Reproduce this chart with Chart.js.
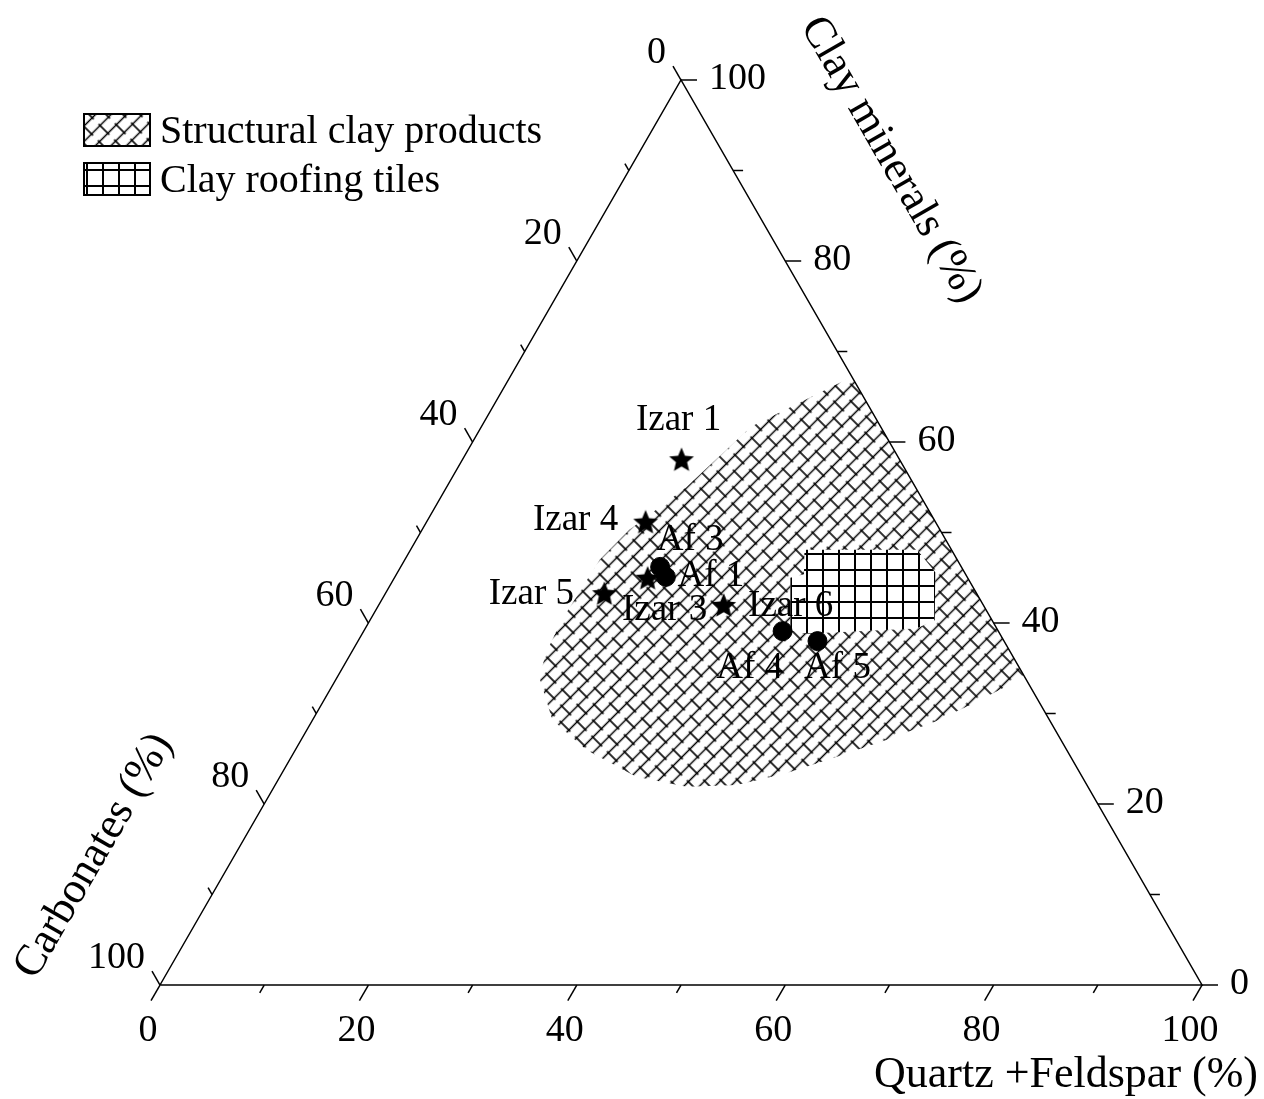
<!DOCTYPE html>
<html>
<head>
<meta charset="utf-8">
<script src="https://cdn.jsdelivr.net/npm/chart.js@4.4.1/dist/chart.umd.min.js"></script>
<style>
  html, body { margin: 0; padding: 0; background: #ffffff; }
  canvas { display: block; }
</style>
</head>
<body>
<canvas id="chart" width="1264" height="1099"></canvas>
<script>
// ---- Sample compositions (%) ----
const izarNames = ['Izar 1', 'Izar 3', 'Izar 4', 'Izar 5', 'Izar 6'];
const izarQuartzFeldspar = [21.0, 24.3, 21.0, 21.0, 33.1];
const izarClay = [58.1, 45.0, 51.2, 43.3, 42.0];
const izarCarbonates = [20.9, 30.7, 27.8, 35.7, 24.9];

const afNames = ['Af 1', 'Af 3', 'Af 4', 'Af 5'];
const afQuartzFeldspar = [26.0, 24.9, 40.2, 44.1];
const afClay = [45.1, 46.2, 39.1, 38.0];
const afCarbonates = [28.9, 28.9, 20.7, 17.9];

// ---- Reference fields: boundary as (Quartz+Feldspar, Clay) pairs ----
const structuralQuartzFeldspar = [32.8, 25.9, 23.0, 19.9, 18.7, 18.4, 18.7, 19.4, 23.0, 27.9, 34.2, 39.6, 44.3, 48.4, 52.3, 56.2, 59.8, 62.6, 64.6, 65.75];
const structuralClay           = [67.2, 61.7, 55.0, 50.3, 47.0, 40.3, 36.7, 34.0, 29.3, 26.0, 23.0, 21.9, 22.1, 23.4, 25.2, 27.1, 29.1, 31.2, 32.9, 34.25];

const roofingQuartzFeldspar = [37.8, 48.6, 51.6, 54.2, 52.9, 42.5, 40.9, 38.0, 39.1];
const roofingClay           = [48.1, 48.1, 45.6, 40.3, 39.4, 38.8, 39.2, 45.0, 45.4];

// ---- Axes ----
const tickValues = [0, 10, 20, 30, 40, 50, 60, 70, 80, 90, 100];
const tickLabels = ['0', '20', '40', '60', '80', '100'];
const legendLabels = ['Structural clay products', 'Clay roofing tiles'];
const axisTitles = { bottom: 'Quartz +Feldspar (%)', right: 'Clay minerals (%)', left: 'Carbonates (%)' };

// Label placement around each marker (pixels)
const izarLabelOffsets = [[-3, -39], [17, 33], [-70, -1], [-73, 1], [67, 1]];
const afLabelOffsets = [[45, -1], [30, -27], [-33, 37], [20, 27]];

const SERIF = '"Liberation Serif", "Times New Roman", serif';

// Ternary composition -> cartesian (x: 0..100 along base, y: clay 0..100 up to apex)
function ternary(q, c, carb) {
  const s = q + c + carb;
  return { x: (q + c / 2) * 100 / s, y: c * 100 / s };
}
function edgePoint(q, c) { return { x: q + c / 2, y: c }; }

function seriesPoints(qs, cs, ks) { return qs.map((q, i) => ternary(q, cs[i], ks[i])); }

// Signed area used to orient the hole of the structural field
function orientation(pts) {
  let a = 0;
  for (let i = 0; i < pts.length; i++) {
    const p = pts[i], n = pts[(i + 1) % pts.length];
    a += p.x * n.y - n.x * p.y;
  }
  return Math.sign(a);
}

const roofingOutline = roofingQuartzFeldspar.map((q, i) => edgePoint(q, roofingClay[i]));
const structuralOutline = structuralQuartzFeldspar.map((q, i) => edgePoint(q, structuralClay[i]));

// Structural field with the roofing field cut out (opposite winding)
function structuralWithHole() {
  const outer = structuralOutline.slice();
  let inner = roofingOutline.slice();
  if (orientation(outer) === orientation(inner)) inner = inner.reverse();
  return outer.concat([outer[0]], inner, [inner[0], outer[0]]);
}

// ---- Patterns and marker images ----
function brickPattern(ctx) {
  const h = 11, L = 24;
  const c = document.createElement('canvas');
  c.width = L; c.height = 2 * h;
  const g = c.getContext('2d');
  g.strokeStyle = '#000';
  g.lineWidth = 1.6;
  g.beginPath();
  g.moveTo(0, h / 2); g.lineTo(L, h / 2);
  g.moveTo(0, 1.5 * h); g.lineTo(L, 1.5 * h);
  g.moveTo(L / 4, h / 2 - 2); g.lineTo(L / 4, 1.5 * h + 2);
  g.moveTo(0.75 * L, 1.5 * h - 2); g.lineTo(0.75 * L, 2 * h);
  g.moveTo(0.75 * L, 0); g.lineTo(0.75 * L, h / 2 + 2);
  g.stroke();
  const p = ctx.createPattern(c, 'repeat');
  p.setTransform(new DOMMatrix().rotate(-45));
  return p;
}

function gridPattern(ctx) {
  const s = 16;
  const c = document.createElement('canvas');
  c.width = s; c.height = s;
  const g = c.getContext('2d');
  g.fillStyle = '#000';
  g.fillRect(0, 0, 2, s);
  g.fillRect(0, 0, s, 2);
  const p = ctx.createPattern(c, 'repeat');
  p.setTransform(new DOMMatrix().translate(6, 9));
  return p;
}

function starImage(r) {
  const s = Math.ceil(r * 2 + 2);
  const c = document.createElement('canvas');
  c.width = s; c.height = s;
  const g = c.getContext('2d');
  g.translate(s / 2, s / 2 + r * 0.1);
  g.beginPath();
  for (let i = 0; i < 10; i++) {
    const a = -Math.PI / 2 + i * Math.PI / 5;
    const rr = i % 2 ? r * 0.45 : r;
    g.lineTo(rr * Math.cos(a), rr * Math.sin(a));
  }
  g.closePath();
  g.fillStyle = '#000';
  g.fill();
  return c;
}

const canvas = document.getElementById('chart');
const ctx = canvas.getContext('2d');
const brick = brickPattern(ctx);
const grid = gridPattern(ctx);
const star = starImage(13);

// ---- Frame, ticks, labels and legend ----
const ternaryDecor = {
  id: 'ternaryDecor',
  beforeDatasetsDraw(chart) {
    const { ctx } = chart;
    const xs = chart.scales.x, ys = chart.scales.y;
    ctx.save();
    ctx.fillStyle = '#000';
    ctx.font = '37px ' + SERIF;
    ctx.textAlign = 'center';
    ctx.textBaseline = 'middle';
    const groups = [
      [izarNames, seriesPoints(izarQuartzFeldspar, izarClay, izarCarbonates), izarLabelOffsets],
      [afNames, seriesPoints(afQuartzFeldspar, afClay, afCarbonates), afLabelOffsets]
    ];
    groups.forEach(([names, pts, offs]) => {
      names.forEach((n, i) => {
        const px = xs.getPixelForValue(pts[i].x), py = ys.getPixelForValue(pts[i].y);
        ctx.fillText(n, px + offs[i][0], py + offs[i][1]);
      });
    });
    ctx.restore();
  },
  afterDatasetsDraw(chart) {
    const { ctx } = chart;
    const xs = chart.scales.x, ys = chart.scales.y;
    const P = (p) => [xs.getPixelForValue(p.x), ys.getPixelForValue(p.y)];
    const s3 = Math.sqrt(3) / 2;
    ctx.save();
    ctx.strokeStyle = '#000';
    ctx.fillStyle = '#000';
    ctx.lineWidth = 1.5;
    ctx.font = '38px ' + SERIF;
    ctx.textBaseline = 'middle';

    tickValues.forEach((v) => {
      const major = v % 20 === 0;
      const label = tickLabels[v / 20];
      // Bottom axis: Quartz + Feldspar
      let [x, y] = P(edgePoint(v, 0));
      let len = major ? 18 : 9;
      ctx.beginPath(); ctx.moveTo(x, y); ctx.lineTo(x - 0.5 * len, y + s3 * len); ctx.stroke();
      if (major) { ctx.textAlign = 'center'; ctx.fillText(label, x - 12, y + 46); }
      // Right axis: Clay minerals
      [x, y] = P(edgePoint(100 - v, v));
      len = major ? 16 : 10;
      ctx.beginPath(); ctx.moveTo(x, y); ctx.lineTo(x + len, y); ctx.stroke();
      if (major) { ctx.textAlign = 'left'; ctx.fillText(label, x + 28, y - 1); }
      // Left axis: Carbonates
      [x, y] = P(edgePoint(0, 100 - v));
      len = major ? 16 : 8;
      ctx.beginPath(); ctx.moveTo(x, y); ctx.lineTo(x - 0.5 * len, y - s3 * len); ctx.stroke();
      if (major) { ctx.textAlign = 'right'; ctx.fillText(label, x - 15, y - 27); }
    });

    // Axis titles
    ctx.font = '44px ' + SERIF;
    ctx.textAlign = 'center';
    ctx.fillText(axisTitles.bottom, 1066, 1075);
    ctx.save();
    ctx.translate(891, 160);
    ctx.rotate(Math.PI / 3);
    ctx.fillText(axisTitles.right, 0, 0);
    ctx.restore();
    ctx.save();
    ctx.translate(94, 856);
    ctx.rotate(-Math.PI / 3);
    ctx.fillText(axisTitles.left, 0, 0);
    ctx.restore();

    // Legend
    ctx.font = '40px ' + SERIF;
    ctx.textAlign = 'left';
    const fills = [brick, grid];
    legendLabels.forEach((t, i) => {
      const top = 114 + i * 49;
      ctx.fillStyle = '#fff';
      ctx.fillRect(84, top, 66, 32);
      ctx.fillStyle = fills[i];
      ctx.fillRect(84, top, 66, 32);
      ctx.lineWidth = 2;
      ctx.strokeRect(84, top, 66, 32);
      ctx.fillStyle = '#000';
      ctx.fillText(t, 160, top + 18);
    });
    ctx.restore();
  }
};

new Chart(canvas, {
  type: 'scatter',
  data: {
    datasets: [
      {
        label: 'Izar',
        data: seriesPoints(izarQuartzFeldspar, izarClay, izarCarbonates),
        pointStyle: star,
        pointRadius: 13,
        order: 0
      },
      {
        label: 'Af',
        data: seriesPoints(afQuartzFeldspar, afClay, afCarbonates),
        pointStyle: 'circle',
        pointRadius: 9.5,
        backgroundColor: '#000',
        borderColor: '#000',
        borderWidth: 1,
        order: 0
      },
      {
        label: legendLabels[1],
        data: roofingOutline.concat([roofingOutline[0]]),
        showLine: true,
        fill: 'shape',
        backgroundColor: grid,
        borderColor: 'rgba(0,0,0,0)',
        borderWidth: 1,
        pointRadius: 0,
        tension: 0,
        order: 1
      },
      {
        label: legendLabels[0],
        data: structuralWithHole(),
        showLine: true,
        fill: 'shape',
        backgroundColor: brick,
        borderColor: 'rgba(0,0,0,0)',
        borderWidth: 1,
        pointRadius: 0,
        tension: 0,
        order: 2
      },
      {
        label: 'frame',
        data: [edgePoint(0, 0), edgePoint(100, 0), edgePoint(0, 100), edgePoint(0, 0)],
        showLine: true,
        fill: false,
        borderColor: '#000',
        borderWidth: 1.5,
        pointRadius: 0,
        order: 3
      }
    ]
  },
  options: {
    responsive: false,
    animation: false,
    events: [],
    clip: false,
    layout: { padding: { left: 160, right: 62, top: 80, bottom: 114 } },
    scales: {
      x: { type: 'linear', min: 0, max: 100, display: false },
      y: { type: 'linear', min: 0, max: 100, display: false }
    },
    plugins: { legend: { display: false }, tooltip: { enabled: false } }
  },
  plugins: [ternaryDecor]
});
</script>
</body>
</html>
